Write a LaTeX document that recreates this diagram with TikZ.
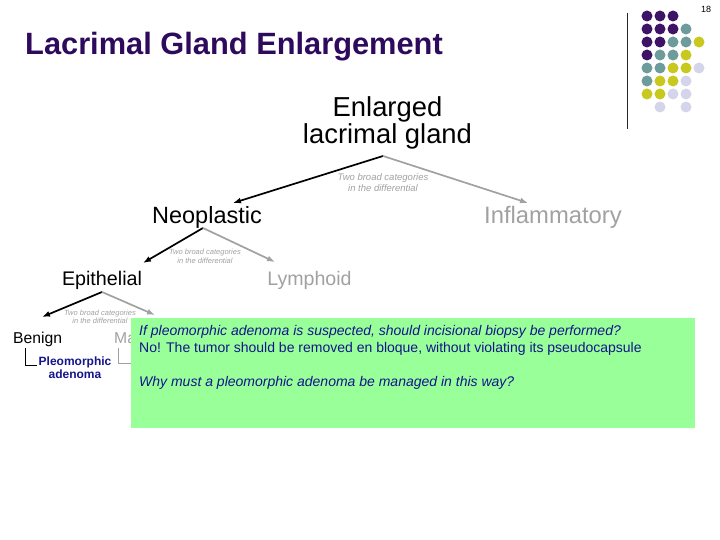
\documentclass[tikz,border=0pt]{standalone}
\usepackage{fontspec}
\setmainfont{Liberation Sans}
\usetikzlibrary{arrows.meta}

\definecolor{dot purple}{HTML}{3D1466}
\definecolor{dot teal}{HTML}{6E9B9B}
\definecolor{dot yellow}{HTML}{C8C81E}
\definecolor{dot lilac}{HTML}{D4D4EA}
\definecolor{title ink}{HTML}{2E0A5C}
\definecolor{note green}{HTML}{99FF99}
\definecolor{note ink}{HTML}{14148C}
\colorlet{faded}{black!37}

\tikzset{
  term/.style={inner sep=0pt, anchor=base},
  hint/.style={inner sep=0pt, align=center, text=faded}
  }
\tikzstyle{branch} = [draw, line width=1.7pt, -{Latex[length=8pt,width=6pt]}]
\tikzstyle{faded branch} = [branch, faded]
\tikzstyle{elbow} = [draw, line width=0.8pt]
\tikzstyle{dot}=[circle,minimum size=11pt,inner sep=0pt]

\begin{document}
\begin{tikzpicture}[x=1pt,y=-1pt]

    \useasboundingbox (0,0) rectangle (720,540);

    % The slide heading and page number
    \node[term, anchor=base west, text=title ink, font=\bfseries\fontsize{30.8}{33}\selectfont] (title) at (25,55) {Lacrimal Gland Enlargement};
    \node[term, font=\fontsize{9}{10}\selectfont] (page) at (706,13) {18};

    % the dots in the corner
    \foreach \shade/\cells in {
      dot purple/{1/1,2/1,3/1,1/2,2/2,3/2,1/3,2/3,1/4},
      dot teal/{4/2,3/3,4/3,2/4,3/4,1/5,2/5,1/6},
      dot yellow/{5/3,4/4,3/5,4/5,2/6,3/6,1/7,2/7},
      dot lilac/{5/5,4/6,3/7,4/7,2/8,4/8}} {
      \foreach \c/\r in \cells {
        \node[dot, fill=\shade] (dot-\c-\r) at (634+13*\c, 3+13*\r) {};
      }
    }
    \coordinate (rule top) at (627,13);
    \coordinate (rule bottom) at (627,129);
    \draw[line width=0.8pt, black!85] (rule top) -- (rule bottom);

    % The tree of categories (multi-line nodes sit on their last line)
    \node[term, align=center, font=\fontsize{27.4}{27}\selectfont] (gland) at (387.5,144) {Enlarged\\lacrimal gland};
    \node[term, font=\fontsize{23.5}{26}\selectfont] (neo) at (207,224) {Neoplastic};
    \node[term, text=faded, font=\fontsize{23.8}{26}\selectfont] (infl) at (553,223) {Inflammatory};
    \node[term, font=\fontsize{19.7}{22}\selectfont] (epi) at (102,285) {Epithelial};
    \node[term, text=faded, font=\fontsize{19.6}{22}\selectfont] (lymph) at (309.5,285) {Lymphoid};
    \node[term, anchor=base west, font=\fontsize{15.7}{18}\selectfont] (benign) at (13,343) {Benign};
    \node[term, anchor=base west, text=faded, font=\fontsize{15.7}{18}\selectfont] (malig) at (114,343) {Malignant};
    \node[term, align=center, text=note ink, font=\bfseries\fontsize{12}{11}\selectfont] (pleo) at (75,378) {Pleomorphic\\adenoma};

    % the small notes on the forks
    \node[hint, font=\itshape\fontsize{9.5}{11}\selectfont] (hint top) at (383,183) {Two broad categories\\in the differential};
    \node[hint, font=\itshape\fontsize{7.5}{9}\selectfont] (hint mid) at (205,256) {Two broad categories\\in the differential};
    \node[hint, font=\itshape\fontsize{7.5}{8.5}\selectfont] (hint low) at (100,317) {Two broad categories\\in the differential};

    % forks and arrow ends
    \foreach \x/\y/\name in {383/156/gland fork, 233/203/neo tip, 528/203/infl tip, 203/228/neo fork, 143/263/epi tip, 275/262/lymph tip, 102/292/epi fork, 42/317/benign tip, 155/315/malig tip, 25/348/benign stem, 37/365/benign leaf, 118/348/malig stem, 136/363/malig leaf} {
      \coordinate (\name) at (\x,\y);
    }

    % The connections between them
    \foreach \source/\sink in {gland fork/neo tip, neo fork/epi tip, epi fork/benign tip} {
      \path[branch] (\source) -- (\sink);
    }
    \foreach \source/\sink in {gland fork/infl tip, neo fork/lymph tip, epi fork/malig tip} {
      \path[faded branch] (\source) -- (\sink);
    }
    \path[elbow] (benign stem) |- (benign leaf);
    \path[elbow, faded] (malig stem) |- (malig leaf);

    % the question box on top
    \node[fill=note green, anchor=north west, minimum width=564pt, minimum height=110pt, inner sep=0pt] (note) at (131,318) {};
    \node[anchor=north west, inner sep=0pt, align=left, text=note ink, font=\fontsize{14}{17}\selectfont] (question) at ([xshift=8pt,yshift=-7pt]note.north west)
      {\textit{If pleomorphic adenoma is suspected, should incisional biopsy be performed?}\\
       No! The tumor should be removed en bloque, without violating its pseudocapsule\\[17pt]
       \textit{Why must a pleomorphic adenoma be managed in this way?}};
\end{tikzpicture}
\end{document}
